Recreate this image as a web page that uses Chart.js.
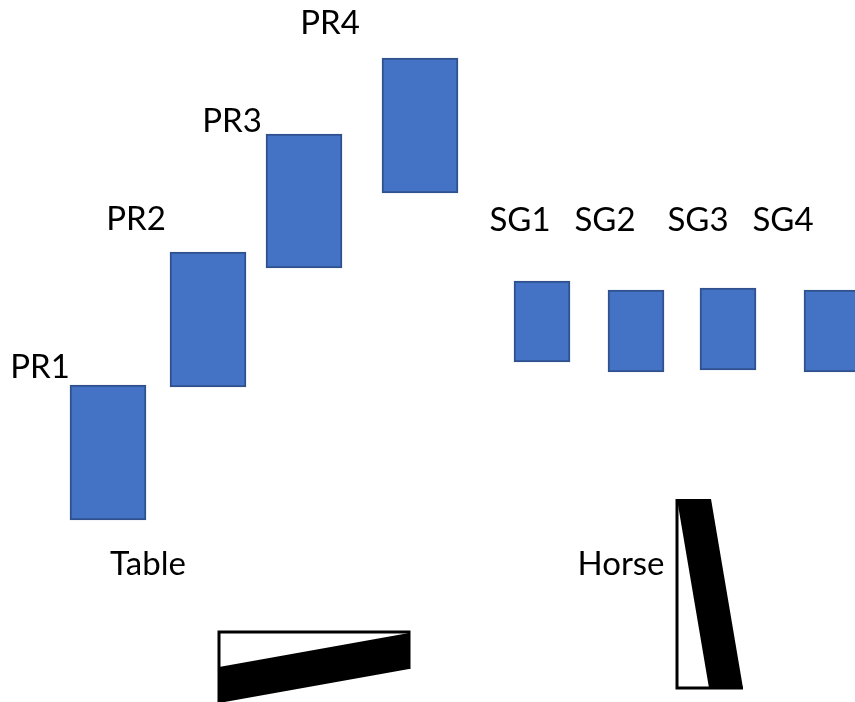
<!DOCTYPE html>
<html>
<head>
<meta charset="utf-8">
<script src="https://cdn.jsdelivr.net/npm/chart.js@4.4.1/dist/chart.umd.min.js"></script>
<style>
  html, body { margin: 0; padding: 0; background: #ffffff; }
  #wrap { width: 855px; height: 702px; }
</style>
</head>
<body>
<div id="wrap"><canvas id="myChart"></canvas></div>
<script>
// stations across the floor (x) and the height span of each block (bottom, top)
var prNames = ['PR1', 'PR2', 'PR3', 'PR4'];
var prX = [108, 208, 304, 420];
var prSpan = [[182, 317], [315, 450], [434, 568], [509, 644]];

var sgNames = ['SG1', 'SG2', 'SG3', 'SG4'];
var sgX = [542, 636, 728, 832];
var sgSpan = [[340, 421], [330, 412], [332, 414], [330, 412]];

// the two props, outline and black wedge, as x / height pairs
var tableOutline = [[219, 0], [219, 70], [409, 70], [409, 33]];
var tableWedge = [[219, 35], [409, 69], [409, 33], [219, -1]];
var horseOutline = [[677, 203], [677, 14], [743, 14]];
var horseWedge = [[677, 203], [711, 203], [743, 14], [709, 14]];

// text labels: name, x, baseline height
var labelText = ['PR1', 'PR2', 'PR3', 'PR4', 'SG1', 'SG2', 'SG3', 'SG4', 'Table', 'Horse'];
var labelX = [40, 136, 232, 330, 520, 605, 698, 783, 148, 621];
var labelY = [324, 472, 570, 668, 471, 471, 471, 471, 127, 127];

function toPoints(arr) {
    return arr.map(function (p) { return { x: p[0], y: p[1] }; });
}
function toBars(xs, spans) {
    return xs.map(function (x, i) { return { x: x, y: spans[i] }; });
}

var labelPlugin = {
    id: 'textLabels',
    afterDatasetsDraw: function (chart) {
        var ctx = chart.ctx;
        var xs = chart.scales.x, ys = chart.scales.y;
        ctx.save();
        ctx.fillStyle = '#000000';
        ctx.font = '33px Lato, "Open Sans", sans-serif';
        ctx.textAlign = 'center';
        ctx.textBaseline = 'alphabetic';
        for (let i = 0; i < labelText.length; i++) {
            ctx.fillText(labelText[i], xs.getPixelForValue(labelX[i]), ys.getPixelForValue(labelY[i]));
        }
        ctx.restore();
    }
};

var ctx = document.getElementById('myChart');
var chart = new Chart(ctx, {
    type: 'bar',
    data: {
        datasets: [
            {
                label: 'PR',
                data: toBars(prX, prSpan),
                backgroundColor: '#4472C4',
                borderColor: '#2F528F',
                borderWidth: 2,
                borderSkipped: false,
                barThickness: 76,
                grouped: false
            },
            {
                label: 'SG',
                data: toBars(sgX, sgSpan),
                backgroundColor: '#4472C4',
                borderColor: '#2F528F',
                borderWidth: 2,
                borderSkipped: false,
                barThickness: 56,
                grouped: false
            },
            {
                type: 'line',
                label: 'Table wedge',
                data: toPoints(tableWedge),
                backgroundColor: '#000000',
                borderColor: '#000000',
                borderWidth: 0,
                pointRadius: 0,
                fill: 'shape',
                tension: 0
            },
            {
                type: 'line',
                label: 'Table outline',
                data: toPoints(tableOutline),
                borderColor: '#000000',
                borderWidth: 3,
                pointRadius: 0,
                fill: false,
                tension: 0
            },
            {
                type: 'line',
                label: 'Horse wedge',
                data: toPoints(horseWedge),
                backgroundColor: '#000000',
                borderColor: '#000000',
                borderWidth: 0,
                pointRadius: 0,
                fill: 'shape',
                tension: 0
            },
            {
                type: 'line',
                label: 'Horse outline',
                data: toPoints(horseOutline),
                borderColor: '#000000',
                borderWidth: 3,
                pointRadius: 0,
                fill: false,
                tension: 0
            }
        ]
    },
    options: {
        responsive: true,
        maintainAspectRatio: false,
        animation: false,
        layout: { padding: 0 },
        scales: {
            x: { type: 'linear', min: 0, max: 855, offset: false, display: false },
            y: { type: 'linear', min: 0, max: 702, display: false }
        },
        plugins: {
            legend: { display: false },
            tooltip: { enabled: false },
            title: { display: false }
        }
    },
    plugins: [labelPlugin]
});
</script>
</body>
</html>
